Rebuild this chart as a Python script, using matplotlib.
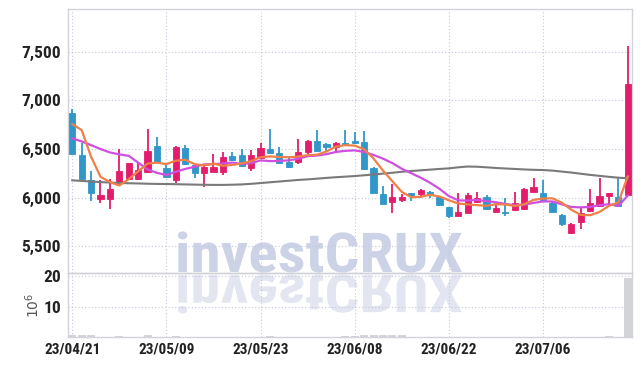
import numpy as np
import matplotlib.pyplot as plt
from matplotlib.patches import PathPatch
from matplotlib.textpath import TextPath
from matplotlib.font_manager import FontProperties
from matplotlib.transforms import Affine2D

# daily candles, 23/04/21 .. 23/07/19 (trading days)
opens = [6867, 6438, 6181, 5989, 5989, 6147, 6188, 6191, 6260, 6534,
         6301, 6181, 6507, 6335, 6250, 6266, 6266, 6428, 6438, 6301,
         6404, 6500, 6462, 6369, 6363, 6472, 6582, 6554, 6523, 6561,
         6585, 6575, 6304, 6037, 5958, 5972, 6044, 6034, 6061, 6009,
         5900, 5814, 5845, 5958, 6009, 5852, 5850, 5873, 5880, 6061,
         6050, 5948, 5821, 5633, 5746, 5862, 5914, 6017, 6003, 6027]
highs = [6911, 6558, 6277, 6181, 6188, 6500, 6360, 6369, 6702, 6623,
         6346, 6530, 6541, 6345, 6335, 6445, 6472, 6472, 6497, 6490,
         6565, 6702, 6520, 6414, 6600, 6590, 6695, 6560, 6575, 6695,
         6678, 6685, 6318, 6119, 6137, 6037, 6050, 6085, 6070, 6015,
         5905, 6044, 6050, 6055, 6027, 5958, 5999, 6061, 6100, 6199,
         6181, 5955, 5830, 5735, 5907, 6085, 6199, 6050, 6205, 7559]
lows = [6440, 6181, 5968, 5942, 5883, 6130, 6180, 6180, 6250, 6355,
        6205, 6153, 6335, 6199, 6106, 6260, 6232, 6380, 6318, 6277,
        6400, 6455, 6345, 6301, 6342, 6421, 6475, 6482, 6456, 6540,
        6550, 6285, 6045, 5930, 5839, 5958, 5970, 6000, 5993, 5915,
        5787, 5810, 5840, 5950, 5878, 5839, 5811, 5865, 5875, 6055,
        5955, 5845, 5710, 5625, 5674, 5855, 5905, 5914, 5900, 6020]
closes = [6448, 6191, 6051, 6024, 6085, 6274, 6353, 6284, 6479, 6363,
          6217, 6525, 6346, 6250, 6318, 6312, 6414, 6387, 6328, 6438,
          6507, 6462, 6353, 6318, 6472, 6582, 6482, 6523, 6565, 6548,
          6558, 6294, 6051, 5937, 6006, 6006, 6020, 6078, 6034, 5921,
          5814, 5855, 6027, 5999, 5883, 5896, 5845, 5948, 6089, 6106,
          5965, 5855, 5726, 5729, 5839, 5948, 6017, 6044, 5914, 7168]

ma5 = [6757, 6695, 6421, 6215, 6160, 6125, 6190, 6270, 6350, 6360,
       6345, 6380, 6390, 6345, 6331, 6350, 6328, 6336, 6352, 6376,
       6415, 6424, 6418, 6416, 6422, 6437, 6441, 6475, 6525, 6540,
       6535, 6498, 6403, 6278, 6169, 6059, 6004, 6009, 6029, 6012,
       5973, 5940, 5930, 5923, 5916, 5932, 5930, 5914, 5932, 5977,
       5991, 5993, 5948, 5876, 5823, 5819, 5852, 5915, 5952, 6218]
ma10 = [6610, 6578, 6540, 6500, 6465, 6445, 6430, 6360, 6290, 6255,
        6232, 6266, 6295, 6318, 6341, 6345, 6351, 6361, 6346, 6354,
        6383, 6376, 6377, 6384, 6399, 6426, 6433, 6447, 6470, 6481,
        6486, 6470, 6439, 6401, 6355, 6297, 6251, 6206, 6153, 6091,
        6016, 5972, 5970, 5976, 5964, 5953, 5935, 5922, 5928, 5946,
        5961, 5961, 5931, 5904, 5900, 5905, 5922, 5932, 5915, 6021]
ma_long = [6178, 6172, 6166, 6160, 6155, 6151, 6148, 6146, 6143, 6141,
           6140, 6138, 6136, 6134, 6132, 6131, 6131, 6133, 6136, 6142,
           6150, 6158, 6166, 6174, 6182, 6188, 6195, 6203, 6210, 6216,
           6222, 6230, 6238, 6247, 6256, 6266, 6274, 6281, 6288, 6295,
           6301, 6312, 6320, 6318, 6312, 6305, 6300, 6295, 6290, 6286,
           6284, 6278, 6268, 6258, 6246, 6234, 6224, 6214, 6205, 6199]

# volume in millions
volume = [0.5, 0.5, 0.5, 0.1, 0.1, 0.4, 0.1, 0.1, 0.5, 0.1,
          0.1, 0.4, 0.1, 0.1, 0.1, 0.1, 0.1, 0.1, 0.1, 0.1,
          0.1, 0.4, 0.1, 0.1, 0.1, 0.1, 0.1, 0.1, 0.1, 0.4,
          0.4, 0.5, 0.5, 0.5, 0.5, 0.5, 0.1, 0.1, 0.1, 0.1,
          0.1, 0.1, 0.1, 0.1, 0.1, 0.1, 0.1, 0.1, 0.1, 0.1,
          0.1, 0.1, 0.1, 0.1, 0.1, 0.1, 0.1, 0.4, 0.1, 19.3]

date_ticks = [0, 10, 20, 30, 40, 50]
date_labels = ['23/04/21', '23/05/09', '23/05/23', '23/06/08', '23/06/22', '23/07/06']
price_ticks = [5500, 6000, 6500, 7000, 7500]
vol_ticks = [10, 20]

UP = '#e31d6b'
DOWN = '#3197c9'
GRID = '#c4c8dc'
SPINE = '#d2d2da'
FONT = ['Roboto Condensed', 'DejaVu Sans']

o = np.array(opens); c = np.array(closes)
h = np.array(highs); l = np.array(lows)
x = np.arange(len(o))
colors = [UP if cc >= oo else DOWN for oo, cc in zip(o, c)]

fig = plt.figure(figsize=(6.42, 3.66), dpi=100)
fig.patch.set_facecolor('white')

# watermark + reflection, drawn behind the axes
fp = FontProperties(family=FONT, weight='bold')
tp = TextPath((0, 0), 'investCRUX', size=55, prop=fp)
ext = tp.get_extents()
sx = 284 / ext.width
wm = PathPatch(tp, facecolor='#cdd3e7', edgecolor='none', zorder=-2,
               transform=Affine2D().translate(-ext.x0, 0).scale(sx, 1.0)
               .translate(178, 94).scale(0.01) + fig.dpi_scale_trans)
wm_r = PathPatch(tp, facecolor='#e3e6f0', edgecolor='none', zorder=-2,
                 transform=Affine2D().translate(-ext.x0, 0).scale(sx, -0.95)
                 .translate(178, 91).scale(0.01) + fig.dpi_scale_trans)
fig.add_artist(wm)
fig.add_artist(wm_r)

ax = fig.add_axes([68 / 642, 1 - 273 / 366, 564 / 642, 264 / 366])
axv = fig.add_axes([68 / 642, 1 - 337 / 366, 564 / 642, 64 / 366], sharex=ax)

for a in (ax, axv):
    a.set_facecolor('none')
    for s in a.spines.values():
        s.set_color(SPINE)
        s.set_linewidth(1.0)
    a.grid(True, color=GRID, linestyle=(0, (1, 2)), linewidth=0.8)
    a.set_axisbelow(True)
    a.tick_params(length=0, labelsize=12.5, labelcolor='#222222', pad=5)
axv.tick_params(axis='x', labelsize=11, pad=4)

# candles
ax.vlines(x, l, h, color=colors, linewidth=1.3, zorder=2)
ax.bar(x, np.abs(c - o), bottom=np.minimum(o, c), width=0.66,
       color=colors, edgecolor=colors, linewidth=0.6, zorder=3)

# moving averages
ax.plot(x, ma_long, color='#7a7a7a', lw=1.5, zorder=4)
ax.plot(x, ma10, color='#cf4fe0', lw=1.6, zorder=4)
ax.plot(x, ma5, color='#ee8048', lw=1.6, zorder=5)

ax.set_xlim(-0.45, len(x) - 0.55)
ax.set_ylim(5225, 7940)
ax.set_yticks(price_ticks)
ax.set_yticklabels([f'{v:,}' for v in price_ticks], fontfamily=FONT, fontweight='bold')
ax.tick_params(axis='x', labelbottom=False)

# volume
axv.bar(x, volume, width=0.85, color='#d3d3da', zorder=2)
axv.set_ylim(0, 21)
axv.set_yticks(vol_ticks)
axv.set_yticklabels([str(v) for v in vol_ticks], fontfamily=FONT, fontweight='bold')
axv.set_xticks(date_ticks)
axv.set_xticklabels(date_labels, fontfamily=FONT, fontweight='bold')
axv.set_ylabel('$10^6$', fontsize=10, color='#555555', labelpad=1)

fig.savefig('out.png', dpi=100, facecolor='white')
